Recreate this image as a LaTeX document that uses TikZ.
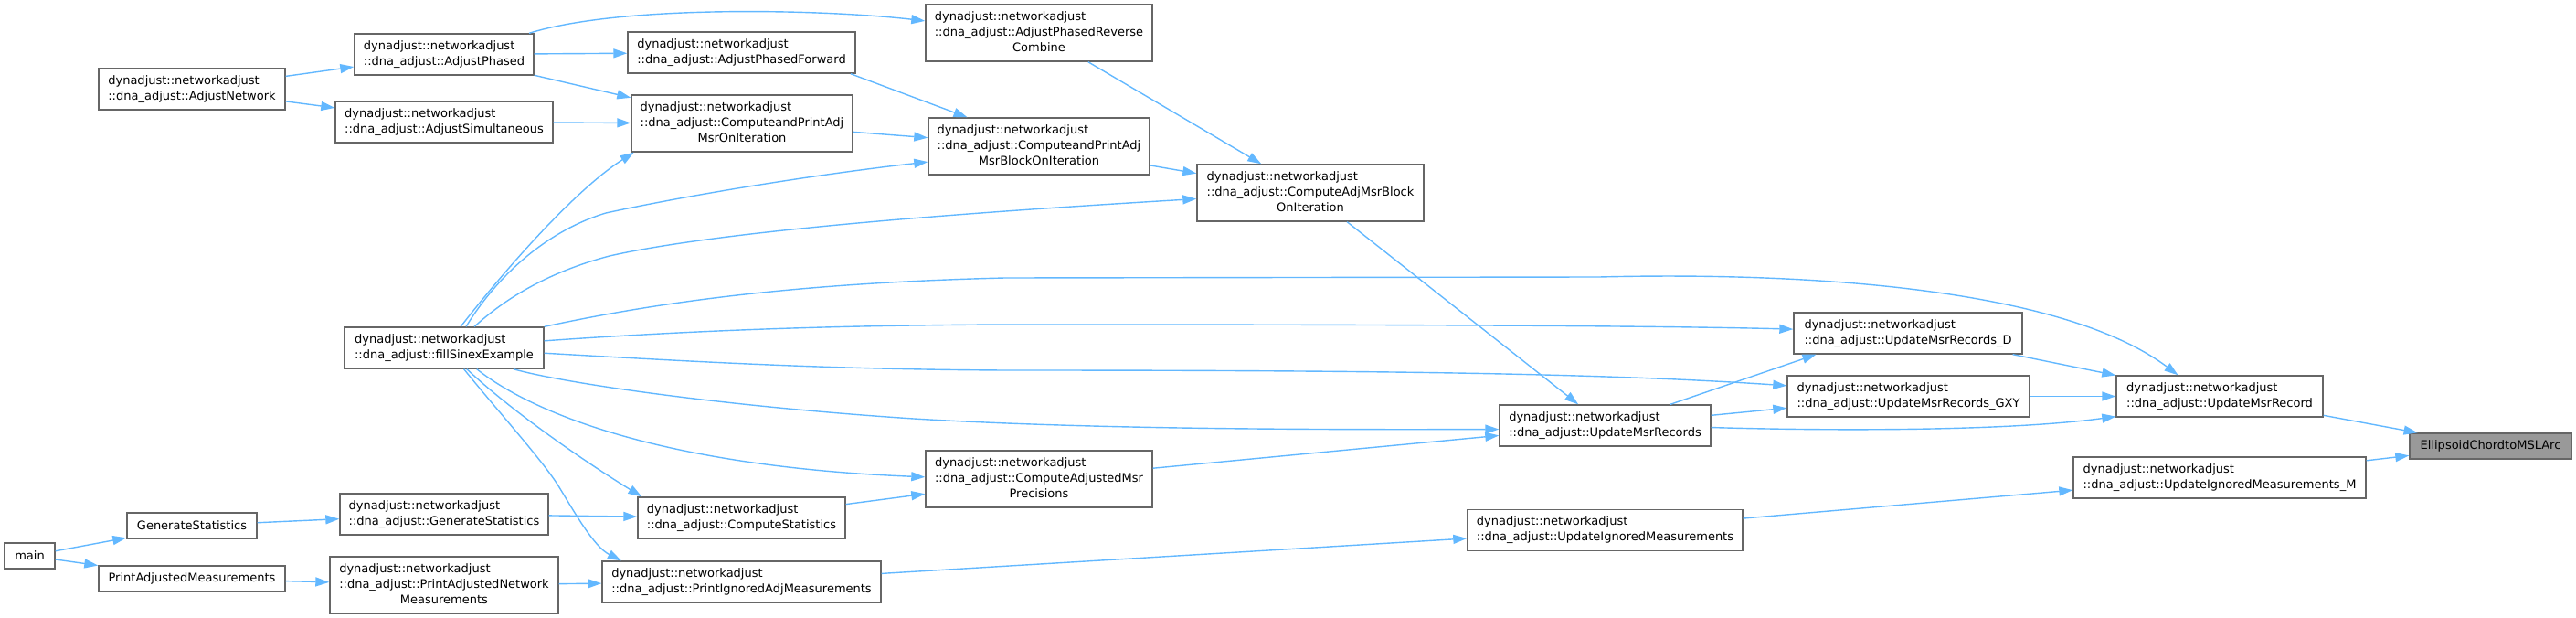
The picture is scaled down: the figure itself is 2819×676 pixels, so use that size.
\documentclass[tikz,border=0pt]{standalone}
\usepackage{fontspec}
\setmainfont{DejaVu Sans}
\usetikzlibrary{arrows.meta}
\definecolor{edgeblue}{HTML}{63B8FF}
\definecolor{boxline}{HTML}{666666}
\definecolor{boxfill}{HTML}{999999}
\newcommand{\twoln}[2]{\begin{tabular}{@{}l@{}}#1\\#2\end{tabular}}
\newcommand{\threeln}[3]{\begin{tabular}{@{}l@{}}#1\\#2\\\multicolumn{1}{@{}c@{}}{#3}\end{tabular}}

\begin{document}
\begin{tikzpicture}[x=1pt,y=-1pt,
  fn/.style={draw=boxline, fill=white, line width=1.4pt, inner sep=0pt,
    minimum height=45pt, font=\fontsize{13}{17}\selectfont},
  fnhi/.style={fn, fill=boxfill},
  call/.style={draw=edgeblue, line width=1.4pt, -{Triangle[length=15pt,width=10pt]}}]
\useasboundingbox (0,0) rectangle (2819,676);

\node[fn, minimum width=204pt] (an) at (210,97.5) {\twoln{dynadjust::networkadjust}{::dna\_adjust::AdjustNetwork}};
\node[fn, minimum width=196pt] (aph) at (486,59.5) {\twoln{dynadjust::networkadjust}{::dna\_adjust::AdjustPhased}};
\node[fn, minimum width=238pt] (asim) at (486,133.5) {\twoln{dynadjust::networkadjust}{::dna\_adjust::AdjustSimultaneous}};
\node[fn, minimum width=249pt] (aphf) at (811.5,57.5) {\twoln{dynadjust::networkadjust}{::dna\_adjust::AdjustPhasedForward}};
\node[fn, minimum width=242pt, minimum height=62pt] (cpai) at (812,135) {\threeln{dynadjust::networkadjust}{::dna\_adjust::ComputeandPrintAdj}{MsrOnIteration}};
\node[fn, minimum width=218pt] (fse) at (486,380.5) {\twoln{dynadjust::networkadjust}{::dna\_adjust::fillSinexExample}};
\node[fn, minimum width=248pt, minimum height=62pt] (aprc) at (1137,36) {\threeln{dynadjust::networkadjust}{::dna\_adjust::AdjustPhasedReverse}{Combine}};
\node[fn, minimum width=242pt, minimum height=62pt] (cpab) at (1137,160) {\threeln{dynadjust::networkadjust}{::dna\_adjust::ComputeandPrintAdj}{MsrBlockOnIteration}};
\node[fn, minimum width=248pt, minimum height=62pt] (cab) at (1434,211) {\threeln{dynadjust::networkadjust}{::dna\_adjust::ComputeAdjMsrBlock}{OnIteration}};
\node[fn, minimum width=250pt] (umd) at (2088,364.5) {\twoln{dynadjust::networkadjust}{::dna\_adjust::UpdateMsrRecords\_D}};
\node[fn, minimum width=265pt] (ugxy) at (2088.5,433.5) {\twoln{dynadjust::networkadjust}{::dna\_adjust::UpdateMsrRecords\_GXY}};
\node[fn, minimum width=226pt] (umr) at (2429,433.5) {\twoln{dynadjust::networkadjust}{::dna\_adjust::UpdateMsrRecord}};
\node[fnhi, minimum width=177pt, minimum height=28pt] (ell) at (2725.5,488) {EllipsoidChordtoMSLArc};
\node[fn, minimum width=320pt] (uimm) at (2429,522.5) {\twoln{dynadjust::networkadjust}{::dna\_adjust::UpdateIgnoredMeasurements\_M}};
\node[fn, minimum width=231pt] (umrs) at (1756.5,465.5) {\twoln{dynadjust::networkadjust}{::dna\_adjust::UpdateMsrRecords}};
\node[fn, minimum width=248pt, minimum height=62pt] (camp) at (1137,524) {\threeln{dynadjust::networkadjust}{::dna\_adjust::ComputeAdjustedMsr}{Precisions}};
\node[fn, minimum width=301pt] (uim) at (1756.5,580) {\twoln{dynadjust::networkadjust}{::dna\_adjust::UpdateIgnoredMeasurements}};
\node[fn, minimum width=227pt] (cs) at (811.5,566.5) {\twoln{dynadjust::networkadjust}{::dna\_adjust::ComputeStatistics}};
\node[fn, minimum width=228pt] (dgs) at (486,562.5) {\twoln{dynadjust::networkadjust}{::dna\_adjust::GenerateStatistics}};
\node[fn, minimum width=142pt, minimum height=28pt] (gs) at (210,575) {GenerateStatistics};
\node[fn, minimum width=55pt, minimum height=28pt] (main) at (32.5,608) {main};
\node[fn, minimum width=204pt, minimum height=28pt] (pam) at (210,633) {PrintAdjustedMeasurements};
\node[fn, minimum width=250pt, minimum height=62pt] (panm) at (486,640) {\threeln{dynadjust::networkadjust}{::dna\_adjust::PrintAdjustedNetwork}{Measurements}};
\node[fn, minimum width=305pt] (pia) at (811.5,636.5) {\twoln{dynadjust::networkadjust}{::dna\_adjust::PrintIgnoredAdjMeasurements}};

\draw[call] (an) -- (aph);
\draw[call] (an) -- (asim);
\draw[call] (aph) -- (aphf);
\draw[call] (aph) -- (cpai);
\draw[call] (aph.14) .. controls (680,5) and (900,10) .. (aprc.174);
\draw[call] (asim) -- (cpai);
\draw[call] (aphf.-11.5) -- (cpab.158);
\draw[call] (cpai) -- (cpab);
\draw[call] (aprc) -- (cab);
\draw[call] (cpab) -- (cab);
\draw[call] (fse.52) .. controls (559,287) and (632,206) .. (cpai.-165);
\draw[call] (fse.44) .. controls (545,300) and (600,252) .. (663,233) .. controls (760,212) and (900,190) .. (cpab.-172);
\draw[call] (fse.35) .. controls (560,320) and (610,295) .. (667,280) .. controls (800,250) and (1100,230) .. (cab.-177);
\draw[call] (fse.north east) .. controls (700,335) and (850,310) .. (1100,304) -- (1750,303) .. controls (1950,298) and (2250,310) .. (umr.153);
\draw[call] (fse.4) .. controls (750,362) and (900,356) .. (1100,355) .. controls (1500,355) and (1800,356) .. (umd.178);
\draw[call] (fse.-3) .. controls (750,395) and (900,404) .. (1100,405) .. controls (1500,405) and (1750,408) .. (ugxy.175);
\draw[call] (fse.-17) .. controls (620,420) and (800,445) .. (1000,458) .. controls (1200,470) and (1450,470) .. (umrs.-178);
\draw[call] (fse.-33.5) .. controls (580,450) and (720,510) .. (camp.179);
\draw[call] (fse.-43) .. controls (560,450) and (640,505) .. (cs.168.5);
\draw[call] (fse.-47) .. controls (545,450) and (595,505) .. (612,533) .. controls (629,561) and (650,598) .. (pia.170.6);
\draw[call] (cab) -- (umrs);
\draw[call] (camp) -- (umrs);
\draw[call] (umrs.18.7) -- (umd.193.3);
\draw[call] (umrs) -- (ugxy);
\draw[call] (umrs.-1) .. controls (1950,470) and (2180,474) .. (umr.-169);
\draw[call] (umd) -- (umr);
\draw[call] (ugxy) -- (umr);
\draw[call] (umr) -- (ell);
\draw[call] (uimm) -- (ell);
\draw[call] (uim) -- (uimm);
\draw[call] (pia) -- (uim);
\draw[call] (cs) -- (camp);
\draw[call] (dgs) -- (cs);
\draw[call] (gs) -- (dgs);
\draw[call] (main) -- (gs);
\draw[call] (main) -- (pam);
\draw[call] (pam) -- (panm);
\draw[call] (panm) -- (pia);
\end{tikzpicture}
\end{document}
